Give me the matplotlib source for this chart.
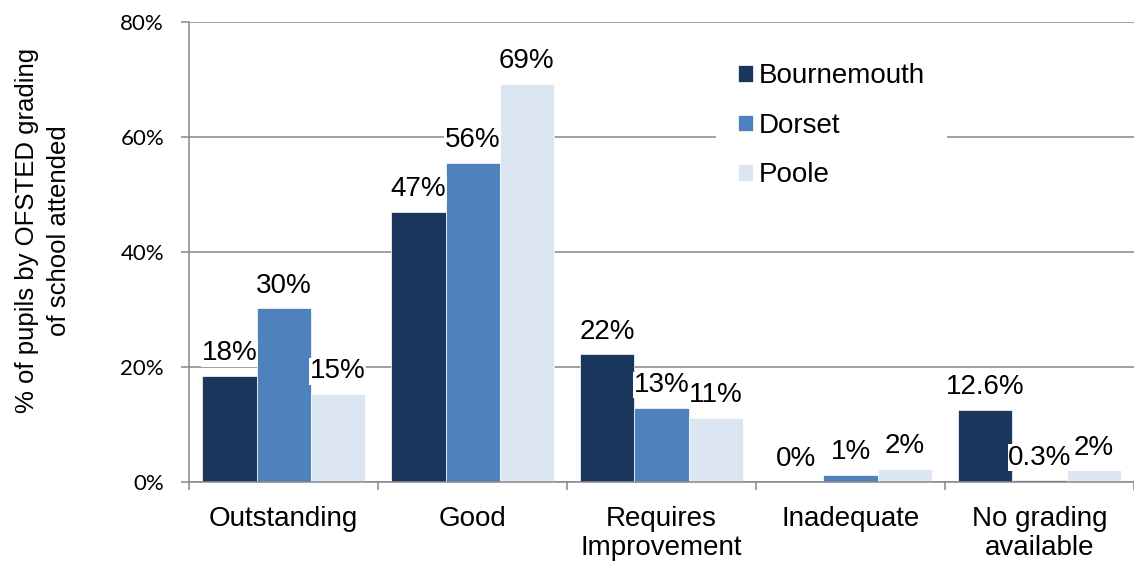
import matplotlib.pyplot as plt
import numpy as np

# Data (percent of pupils)
categories = ['Outstanding', 'Good', 'Requires\nImprovement', 'Inadequate', 'No grading\navailable']
bournemouth = [18.4, 47.0, 22.2, 0.0, 12.6]
dorset = [30.2, 55.5, 12.9, 1.2, 0.3]
poole = [15.3, 69.3, 11.1, 2.3, 2.0]
bournemouth_labels = ['18%', '47%', '22%', '0%', '12.6%']
dorset_labels = ['30%', '56%', '13%', '1%', '0.3%']
poole_labels = ['15%', '69%', '11%', '2%', '2%']
y_ticks = [0, 20, 40, 60, 80]

grey = '#888888'
arial = 'Liberation Sans'

fig = plt.figure(figsize=(11.34, 5.63), dpi=100)
ax = fig.add_axes([0.1667, 0.1439, 0.8333, 0.8170])

x = np.arange(len(categories))
w = 0.286
series = [
    ('Bournemouth', bournemouth, bournemouth_labels, '#1B365D'),
    ('Dorset', dorset, dorset_labels, '#4F81BD'),
    ('Poole', poole, poole_labels, '#DCE6F2'),
]
for i, (name, vals, labels, color) in enumerate(series):
    bars = ax.bar(x + (i - 1) * w, vals, w, color=color, edgecolor='white',
                  linewidth=0.5, label=name, zorder=2)
    # white boxes behind the labels hide the gridlines, as in the original
    ax.bar_label(bars, labels=labels, padding=7, fontsize=20, family=arial,
                 bbox=dict(facecolor='white', edgecolor='none', pad=0.3), zorder=3)

# Axes, ticks and grid
ax.set_xlim(-0.5, len(categories) - 0.5)
ax.set_ylim(0, 80)
ax.set_axisbelow(True)
ax.yaxis.grid(True, color=grey, linewidth=1.1)

ax.set_xticks(x)
ax.set_xticklabels(categories, fontsize=20, family=arial, linespacing=1.15)
ax.set_xticks(np.arange(-0.5, len(categories), 1), minor=True)
ax.tick_params(axis='x', which='major', length=0, pad=17)
ax.tick_params(axis='x', which='minor', length=6, width=1.1, color=grey)

ax.set_yticks(y_ticks)
ax.set_yticklabels([f'{t}%' for t in y_ticks], fontsize=16, family='Lato')
ax.tick_params(axis='y', length=6, width=1.1, color=grey, pad=12)

for side in ['top', 'right']:
    ax.spines[side].set_visible(False)
for side in ['left', 'bottom']:
    ax.spines[side].set_color(grey)
    ax.spines[side].set_linewidth(1.1)

fig.text(0.038, 0.59, '% of pupils by OFSTED grading\nof school attended',
         rotation=90, ha='center', va='center', fontsize=18.5, family=arial,
         linespacing=1.45)

ax.legend(loc='upper left', bbox_to_anchor=(0.619, 0.952), bbox_transform=fig.transFigure,
          frameon=True, facecolor='white', edgecolor='none', framealpha=1, fancybox=False,
          prop={'family': arial, 'size': 20}, handlelength=0.55, handleheight=0.55,
          handletextpad=0.2, labelspacing=0.85, borderpad=0.8)

fig.savefig('out.png', dpi=100)
